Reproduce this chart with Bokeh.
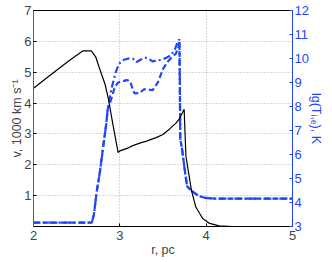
from bokeh.plotting import figure
from bokeh.models import Range1d, LinearAxis, FixedTicker
from bokeh.embed import file_html
from bokeh.resources import INLINE

# Velocity profile (left axis), 1000 km/s
r_v = [2.0, 2.2, 2.4, 2.5, 2.57, 2.67, 2.72, 2.77, 2.83, 2.87, 2.92, 2.98,
       3.0, 3.05, 3.1, 3.15, 3.23, 3.3, 3.42, 3.5, 3.58, 3.65, 3.69, 3.745,
       3.765, 3.79, 3.83, 3.88, 3.96, 4.04, 4.15, 4.3, 5.0]
v = [4.48, 4.92, 5.35, 5.55, 5.69, 5.69, 5.5, 5.08, 4.6, 4.1, 3.3, 2.4,
     2.45, 2.5, 2.55, 2.62, 2.70, 2.76, 2.88, 2.98, 3.17, 3.35, 3.49, 3.8,
     2.3, 1.85, 1.16, 0.63, 0.26, 0.10, 0.02, 0.0, 0.0]

# lg(T_i) (dash-dot), right axis
r_ti = [2.0, 2.675, 2.70, 2.73, 2.77, 2.81, 2.84, 2.86, 2.90, 2.95, 2.99,
        3.05, 3.10, 3.15, 3.19, 3.24, 3.29, 3.33, 3.38, 3.44, 3.50, 3.55,
        3.60, 3.64, 3.67, 3.69, 3.695, 3.70, 3.72, 3.74, 3.76, 3.78, 3.84,
        3.91, 3.99, 4.1, 5.0]
lg_ti = [3.16, 3.16, 3.5, 4.4, 5.3, 6.4, 7.2, 7.9, 8.7, 9.4, 9.78,
         9.95, 10.0, 10.0, 9.85, 9.95, 10.04, 10.0, 9.88, 9.92, 9.97, 10.05,
         10.17, 10.4, 10.7, 10.8, 9.0, 6.65, 6.24, 5.69, 5.14, 4.67, 4.46,
         4.28, 4.19, 4.16, 4.16]

# lg(T_e) (dashed), right axis
r_te = [2.0, 2.675, 2.70, 2.73, 2.77, 2.81, 2.84, 2.86, 2.90, 2.94, 2.98,
        3.03, 3.08, 3.12, 3.15, 3.17, 3.23, 3.28, 3.33, 3.38, 3.44, 3.50,
        3.55, 3.60, 3.65, 3.68, 3.69, 3.695, 3.70, 3.72, 3.74, 3.76, 3.78,
        3.84, 3.91, 3.99, 4.1, 5.0]
lg_te = [3.16, 3.16, 3.5, 4.4, 5.3, 6.4, 7.2, 7.9, 8.3, 8.8, 9.0,
         9.05, 9.1, 9.05, 8.7, 8.55, 8.56, 8.72, 8.7, 8.68, 9.0, 9.56,
         9.85, 10.05, 10.2, 10.5, 10.75, 9.0, 6.65, 6.24, 5.69, 5.14, 4.67,
         4.46, 4.28, 4.19, 4.16, 4.16]

x_ticks = [2, 3, 4, 5]
v_ticks = [1, 2, 3, 4, 5, 6, 7]
t_ticks = [3, 4, 5, 6, 7, 8, 9, 10, 11, 12]

BLUE = "#1f45ff"
FONT = "Liberation Sans"

p = figure(width=325, height=259, output_backend="svg", toolbar_location=None,
           x_range=Range1d(2, 5), y_range=Range1d(0, 7),
           min_border_left=33, min_border_right=0, min_border_top=10,
           min_border_bottom=0)
p.extra_y_ranges = {"T": Range1d(3, 12)}

p.outline_line_color = "black"
p.outline_line_width = 1
p.background_fill_color = "white"
p.border_fill_color = "white"

# grid
p.xgrid.ticker = FixedTicker(ticks=[3, 4])
p.ygrid.ticker = FixedTicker(ticks=[1, 2, 3, 4, 5, 6])
for g in (p.xgrid, p.ygrid):
    g.grid_line_color = "#b0b0b0"
    g.grid_line_dash = "1 2"
    g.grid_line_width = 1

# axes
xa = p.xaxis[0]
xa.ticker = FixedTicker(ticks=x_ticks)
xa.axis_label = "r, pc"
ya = p.yaxis[0]
ya.ticker = FixedTicker(ticks=v_ticks)
ya.axis_label = "v, 1000 km s\u207b\u00b9"
ya.axis_line_color = "#606060"

ra = LinearAxis(y_range_name="T", ticker=FixedTicker(ticks=t_ticks),
                axis_label="lg(T\u1d62,\u2091), K")
p.add_layout(ra, "right")

for ax in (xa, ya, ra):
    ax.major_tick_in = 3
    ax.major_tick_out = 0
    ax.minor_tick_in = 0
    ax.minor_tick_out = 0
    ax.major_label_text_font = FONT
    ax.major_label_text_font_size = "13px"
    ax.axis_label_text_font = FONT
    ax.axis_label_text_font_size = "12.5px"
    ax.axis_label_text_font_style = "normal"
    ax.major_label_standoff = 2
    ax.axis_label_standoff = -3

xa.major_label_standoff = 4
xa.axis_label_standoff = 0

ra.axis_line_color = BLUE
ra.major_tick_line_color = BLUE
ra.major_label_text_color = BLUE
ra.axis_label_text_color = BLUE

# lines
p.line(r_te, lg_te, y_range_name="T", line_color=BLUE, line_width=2.2,
       line_dash="6 3")
p.line(r_ti, lg_ti, y_range_name="T", line_color=BLUE, line_width=2.2,
       line_dash="7 3 2 3")
p.line(r_v, v, line_color="black", line_width=1.2)

open("out.html", "w").write(file_html(p, INLINE))
